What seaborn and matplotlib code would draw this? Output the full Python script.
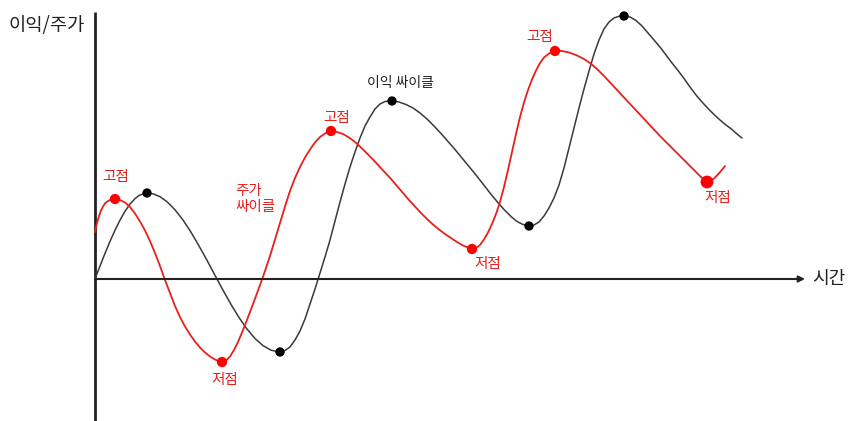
import matplotlib
matplotlib.use('Agg')
import matplotlib.pyplot as plt
import seaborn as sns

# 이익 싸이클 (검정): 시간 / 수준 (x축 = 0)
earn_t = [0, 5, 10, 15, 20, 25, 30, 35, 40, 45, 52,
          58, 65, 72, 80, 88, 96, 104, 112, 120, 128, 136, 144, 152, 160, 168, 176, 185,
          190, 195, 200, 205, 210, 215, 220, 225, 230, 235, 240, 245, 250, 255, 260, 265,
          270, 275, 280, 285, 290, 297,
          304, 311, 318, 325, 332, 339, 346, 353, 360, 367, 374, 381, 388, 395, 402, 409,
          416, 422, 428, 434,
          439, 444, 449, 454, 459, 464, 469, 474, 479, 484, 489, 494, 499, 504, 509, 514,
          519, 524, 529,
          535, 541, 547, 553, 559, 565, 571, 577, 583, 589, 595, 601, 607, 613, 619, 625,
          631, 637, 642, 647]
earn_v = [0, 12.9, 25.6, 37.6, 48.8, 58.9, 67.7, 74.9, 80.4, 84.1, 86,
          85.2, 82.3, 77.3, 69.2, 59, 46.8, 33.1, 18.7, 3.7, -11.2, -25.4, -38.5, -50, -59.5,
          -66.6, -71.2, -73,
          -71.5, -68, -61, -52, -40, -25, -10, 6, 22, 39, 58, 77, 95, 112, 127, 141,
          153, 162, 170, 175, 177.5, 178,
          177, 174.5, 171, 166, 160, 153, 145.5, 137.5, 129.5, 121, 112.5, 104, 95, 86, 77.5,
          69.5, 62.5, 57.5, 54.5, 53,
          54, 57, 63, 71, 81, 94, 111, 131, 151, 171, 190, 208, 225, 239, 250, 257,
          261, 262.8, 263,
          262, 258.5, 253, 246, 239, 232, 224, 216, 208.5, 200.5, 192, 184, 177, 170.5, 164.5,
          159, 154, 149.5, 145, 141]

# 주가 싸이클 (빨강)
price_t = [0, 2, 4, 6, 8, 10, 13, 16, 20,
           25, 30, 35, 40, 45, 50, 55, 60, 65, 70, 75, 80, 85, 90, 95, 100, 105, 110, 115,
           121, 127,
           131, 135, 139, 143, 147, 151, 155, 159, 163, 167, 171, 175, 180, 185, 190, 195,
           200, 205, 210, 215, 220, 225, 230, 236,
           242, 248, 254, 260, 266, 272, 278, 284, 290, 296, 302, 308, 314, 320, 326, 332,
           338, 344, 350, 356, 362, 368, 373, 377,
           381, 385, 389, 393, 397, 401, 405, 409, 413, 417, 421, 425, 429, 433, 437, 441,
           445, 449, 454, 460,
           467, 474, 481, 488, 495, 502, 509, 516, 523, 530, 537, 544, 551, 558, 565, 572,
           579, 586, 593, 600, 606, 610, 612,
           616, 619, 622, 626, 630]
price_v = [47, 56, 63, 68.5, 72.5, 75.5, 78, 79.5, 80,
           79, 76.5, 72, 65.5, 57.5, 48.5, 38, 26, 13, -1, -14, -27, -38, -47.5, -55.5, -62.5,
           -68.5, -73.5, -77.5, -81, -83,
           -81.5, -77.5, -71, -63, -53.5, -43.5, -33, -22.5, -11.5, -0.5, 11, 23, 39.5, 56,
           72.5, 88, 101, 112, 121.5, 129.5, 136.5, 142, 145.5, 148,
           147, 145, 141.5, 137, 131.5, 125.5, 119.5, 113, 106.5, 100, 93, 86, 79, 72.5, 66,
           60, 54.5, 49.5, 45, 41, 37, 33.5, 31.5, 30,
           31, 34, 39.5, 46.5, 55, 65, 77, 92, 109, 127, 145, 162, 176.5, 189, 199.5, 208.5,
           216, 221.5, 225.5, 228,
           228, 226.5, 224, 220.5, 216, 210, 203, 195.5, 188, 180.5, 173, 165.5, 158, 150.5,
           143, 136, 129, 122, 115, 108, 102, 98.5, 97,
           98.5, 100.5, 103.5, 108, 113]

# 고점 / 저점
earn_pt_t = [52, 185, 297, 434, 529]
earn_pt_v = [86, -73, 178, 53, 263]
price_pt_t = [20, 127, 236, 377, 460, 612]
price_pt_v = [80, -83, 148, 30, 228, 97]

# 라벨
labels = ['고점', '저점', '주가\n싸이클', '고점', '저점', '고점', '저점']
label_t = [21, 130, 140, 242, 393, 445, 623]
label_v = [102, -101, 80, 161, 15, 242, 81]
label_ha = ['center', 'center', 'left', 'center', 'center', 'center', 'center']

RED = '#e8201c'
DARK = '#222222'

sns.set_style('white')
plt.rcParams['font.family'] = ['Noto Sans CJK KR', 'DejaVu Sans']

fig = plt.figure(figsize=(8.48, 4.21), dpi=100)
ax = fig.add_axes([0, 0, 1, 1])
ax.set_xlim(-95, 753)
ax.set_ylim(-142, 279)
ax.axis('off')

# 축
ax.plot([0, 0], [-142, 267], color=DARK, lw=2, solid_capstyle='butt')
ax.annotate('', xy=(710, 0), xytext=(0, 0),
            arrowprops=dict(arrowstyle='-|>', color=DARK, lw=1.5, mutation_scale=9,
                            shrinkA=0, shrinkB=0))

sns.lineplot(x=earn_t, y=earn_v, color='#3a3a3a', lw=1.1, ax=ax,
             estimator=None, sort=False)
sns.lineplot(x=price_t, y=price_v, color=RED, lw=1.3, ax=ax,
             estimator=None, sort=False)

sns.scatterplot(x=earn_pt_t, y=earn_pt_v, color='black', s=45, ax=ax,
                edgecolor='none', zorder=5)
sns.scatterplot(x=price_pt_t[:-1], y=price_pt_v[:-1], color='#ff0000', s=55, ax=ax,
                edgecolor='none', zorder=5)
sns.scatterplot(x=price_pt_t[-1:], y=price_pt_v[-1:], color='#ff0000', s=85, ax=ax,
                edgecolor='none', zorder=5)

for txt, t, v, ha in zip(labels, label_t, label_v, label_ha):
    ax.text(t, v, txt, color=RED, fontsize=10.5, ha=ha, va='center', linespacing=1.1)

ax.text(305, 196, '이익 싸이클', color=DARK, fontsize=10, ha='center', va='center')
ax.text(717, 0, '시간', color=DARK, fontsize=13, ha='left', va='center')
ax.text(-48, 254, '이익/주가', color=DARK, fontsize=13.5, ha='center', va='center')

plt.savefig('out.png', dpi=100)
